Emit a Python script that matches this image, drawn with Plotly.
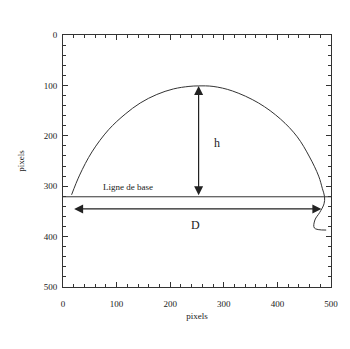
import plotly.graph_objects as go

# Drop profile (pixels)
profile_x = [16, 31, 54, 85, 116, 144, 175, 206, 235, 253, 280, 316, 365, 406, 437, 460, 477, 484, 488, 487, 479, 470, 469, 491]
profile_y = [317, 278, 232, 188, 157, 135, 118, 107, 102, 101, 102, 111, 135, 167, 202, 242, 280, 305, 321, 335, 352, 367, 383, 387]

baseline_y = 321
apex_x, apex_y = 253, 101
d_left, d_right, d_y = 18, 482, 345

tick_vals = [0, 100, 200, 300, 400, 500]
tick_text = ["0", "100", "200", "300", "400", "500"]

line_col = "#333333"
font = dict(family="Liberation Serif, Times New Roman, serif", size=9, color="#222222")

fig = go.Figure()
fig.add_trace(go.Scatter(x=profile_x, y=profile_y, mode="lines",
                         line=dict(color=line_col, width=1, shape="spline", smoothing=1.0),
                         hoverinfo="skip", showlegend=False))
fig.add_trace(go.Scatter(x=[0, 500], y=[baseline_y, baseline_y], mode="lines",
                         line=dict(color=line_col, width=1), showlegend=False))

# h arrow
fig.add_annotation(x=apex_x, y=apex_y, ax=apex_x, ay=baseline_y, xref="x", yref="y",
                   axref="x", ayref="y", showarrow=True, arrowhead=2, arrowside="end+start",
                   arrowsize=1.5, arrowwidth=1.2, arrowcolor="#222222", text="")
# D arrow
fig.add_annotation(x=d_right, y=d_y, ax=d_left, ay=d_y, xref="x", yref="y",
                   axref="x", ayref="y", showarrow=True, arrowhead=2, arrowside="end+start",
                   arrowsize=1.5, arrowwidth=1.2, arrowcolor="#222222", text="")

fig.add_annotation(x=287, y=214, text="h", showarrow=False, font=dict(font, size=12))
fig.add_annotation(x=247, y=377, text="D", showarrow=False, font=dict(font, size=12))
fig.add_annotation(x=121, y=301, text="Ligne de base", showarrow=False, font=dict(font, size=9))

axis_common = dict(showline=True, linecolor=line_col, linewidth=1, mirror="ticks",
                   ticks="inside", ticklen=5, tickcolor=line_col, tickwidth=1,
                   showgrid=False, zeroline=False, tickfont=font,
                   tickvals=tick_vals, ticktext=tick_text,
                   minor=dict(dtick=20, ticks="inside", ticklen=3, tickcolor=line_col, showgrid=False))

fig.update_xaxes(range=[0, 500], title=dict(text="pixels", font=font, standoff=4),
                 ticklabelstandoff=8, **axis_common)
fig.update_yaxes(range=[500, 0], title=dict(text="pixels", font=font, standoff=17),
                 ticklabelstandoff=3, **axis_common)

# page body adds an 8px offset, so the figure is sized/margined to compensate
fig.update_layout(width=342, height=341, margin=dict(l=50, r=15, t=27, b=62),
                  plot_bgcolor="white", paper_bgcolor="white", showlegend=False)

fig.write_html("out.html")
